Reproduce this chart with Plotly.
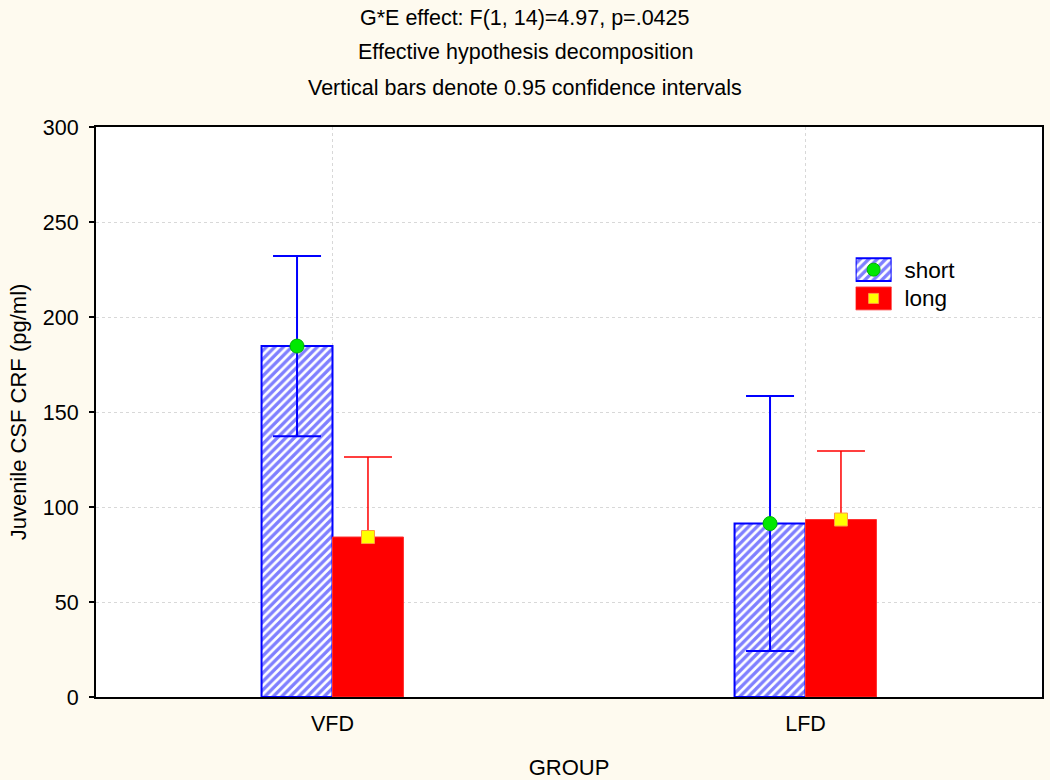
import numpy as np
import plotly.graph_objects as go

# ---------------- data ----------------
groups = ["VFD", "LFD"]
series_names = ["short", "long"]
short_mean = [184.7, 91.3]
short_ci = [47.4, 67.1]
long_mean = [84.2, 93.4]
long_ci = [42.1, 36.1]
y_tick_vals = [0, 50, 100, 150, 200, 250, 300]
title_lines = [
    "G*E effect: F(1, 14)=4.97, p=.0425",
    "Effective hypothesis decomposition",
    "Vertical bars denote 0.95 confidence intervals",
]
x_title = "GROUP"
y_title = "Juvenile CSF CRF (pg/ml)"

# ---------------- styles ----------------
FONT = "Arial, Liberation Sans, sans-serif"
BLUE = "#0000ff"
RED = "#ff0000"
BG = "#fefaef"
BAR_W = 0.15

short_marker = dict(
    color="white",
    line=dict(color=BLUE, width=2),
    pattern=dict(shape="/", fgcolor=BLUE, bgcolor="white", size=6, solidity=0.55),
)
long_marker = dict(color=RED, line=dict(color="#ff3030", width=1))
short_pt = dict(symbol="circle", size=14, color="#00e800", line=dict(color="#00b400", width=1))
long_pt = dict(symbol="square", size=13, color="#ffff00", line=dict(color="#ff9a40", width=1))

xpos = np.arange(len(groups), dtype=float)

fig = go.Figure()

fig.add_trace(go.Bar(
    x=xpos, y=short_mean, width=BAR_W, offset=-BAR_W, marker=short_marker,
    error_y=dict(type="data", array=short_ci, color=BLUE, thickness=2, width=24),
    showlegend=False, name=series_names[0],
))
fig.add_trace(go.Bar(
    x=xpos, y=long_mean, width=BAR_W, offset=0, marker=long_marker,
    error_y=dict(type="data", array=long_ci, color=RED, thickness=1.5, width=24),
    showlegend=False, name=series_names[1],
))
fig.add_trace(go.Scatter(
    x=xpos - BAR_W / 2, y=short_mean, mode="markers", marker=short_pt,
    showlegend=False, cliponaxis=False, hoverinfo="skip",
))
fig.add_trace(go.Scatter(
    x=xpos + BAR_W / 2, y=long_mean, mode="markers", marker=long_pt,
    showlegend=False, cliponaxis=False, hoverinfo="skip",
))

# ---------------- legend (drawn on an inset pair of axes) ----------------
for name, mk in zip(series_names, [short_marker, long_marker]):
    fig.add_trace(go.Bar(
        x=[1], y=[name], orientation="h", base=0, width=0.79, offset=-0.395,
        marker=mk, xaxis="x2", yaxis="y2", showlegend=False, hoverinfo="skip",
    ))
for name, pt in zip(series_names, [short_pt, long_pt]):
    p = dict(pt)
    p["size"] = pt["size"] - (1 if pt["symbol"] == "circle" else 3)
    fig.add_trace(go.Scatter(
        x=[0.5], y=[name], mode="markers", marker=p, xaxis="x2", yaxis="y2",
        showlegend=False, cliponaxis=False, hoverinfo="skip",
    ))

annotations = []
for ypix, txt in zip([1.191, 1.131, 1.068], title_lines):
    annotations.append(dict(
        text=txt, xref="paper", yref="paper", x=0.4535, y=ypix,
        xanchor="center", yanchor="middle", showarrow=False,
        font=dict(family=FONT, size=21.5, color="#000000"),
    ))

fig.update_layout(
    width=1050, height=780,
    margin=dict(l=96, r=8, t=127, b=83, autoexpand=False),
    paper_bgcolor=BG, plot_bgcolor="white",
    font=dict(family=FONT, size=21, color="#000000"),
    barmode="overlay",
    annotations=annotations,
    xaxis=dict(
        range=[-0.5, 1.5], tickvals=list(xpos), ticktext=groups,
        showgrid=True, gridcolor="#d8d8d8", griddash="dot", gridwidth=1,
        zeroline=False, showline=True, linecolor="#000000", linewidth=2, mirror=True,
        ticks="", ticklabelstandoff=6, automargin=False,
        title=dict(text=x_title, font=dict(family=FONT, size=22), standoff=27),
        tickfont=dict(size=21.5), fixedrange=True,
    ),
    yaxis=dict(
        range=[0, 300], tickvals=y_tick_vals,
        showgrid=True, gridcolor="#d8d8d8", griddash="dot", gridwidth=1,
        zeroline=False, showline=True, linecolor="#000000", linewidth=2, mirror=True,
        ticks="outside", ticklen=5, tickwidth=1.5, tickcolor="#000000", ticklabelstandoff=6,
        automargin=False,
        title=dict(text=y_title, font=dict(family=FONT, size=22), standoff=10),
        tickfont=dict(size=21.5), fixedrange=True,
    ),
    xaxis2=dict(
        domain=[0.803, 0.841], range=[0, 1], anchor="y2", visible=False, fixedrange=True,
    ),
    yaxis2=dict(
        domain=[0.674, 0.775], anchor="x2", side="right", autorange="reversed",
        type="category", showgrid=False, zeroline=False, showline=False, ticks="",
        ticklabelstandoff=12, tickfont=dict(size=22.5), fixedrange=True, automargin=False,
    ),
)

fig.write_html(
    "out.html",
    config={"responsive": False, "displayModeBar": False},
    post_script="document.body.style.margin='0';document.body.style.overflow='hidden';",
)
